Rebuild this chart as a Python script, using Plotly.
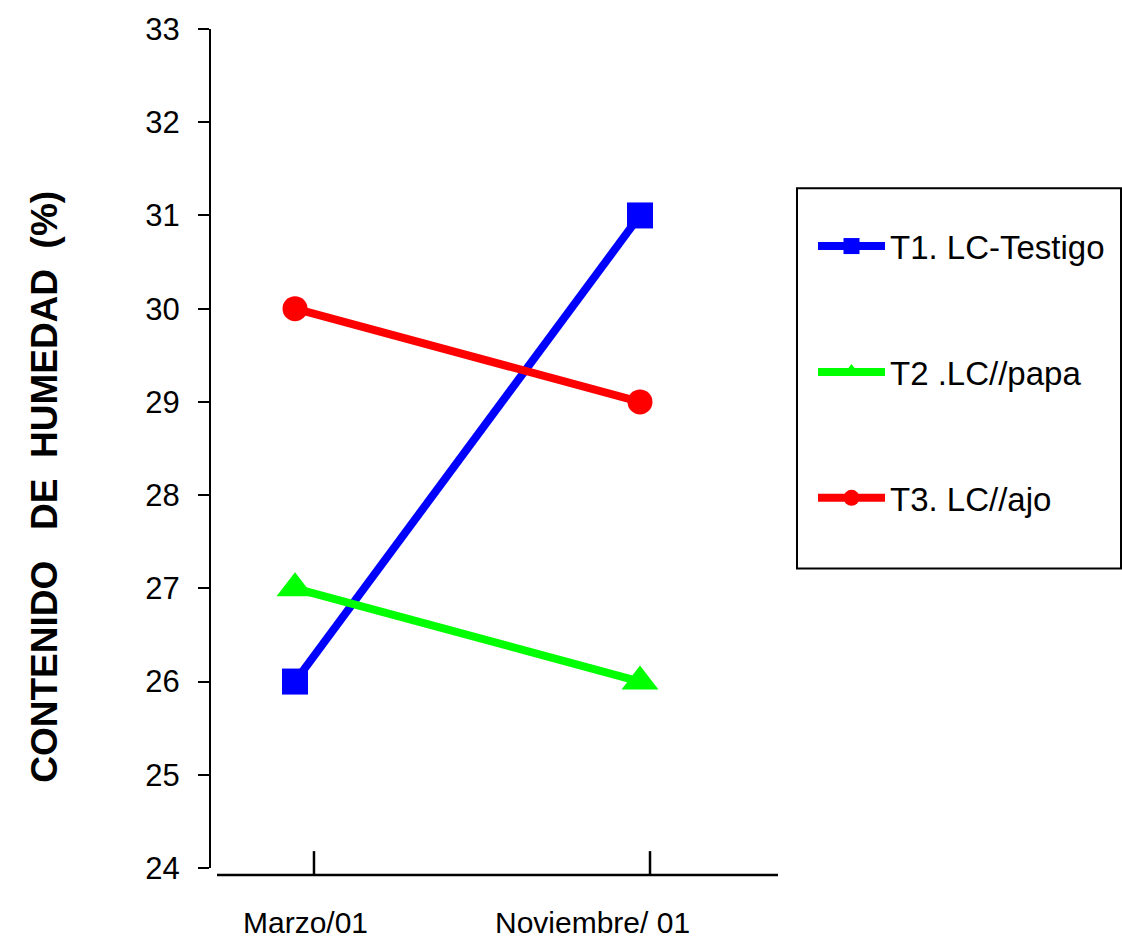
import plotly.graph_objects as go

# ---- data ----
categories = ["Marzo/01", "Noviembre/ 01"]
t1_values = [26, 31]
t2_values = [27, 26]
t3_values = [30, 29]
series_names = ["T1. LC-Testigo", "T2 .LC//papa", "T3. LC//ajo"]
y_ticks = [24, 25, 26, 27, 28, 29, 30, 31, 32, 33]
y_title = "CONTENIDO\u00a0\u00a0\u00a0DE\u00a0\u00a0HUMEDAD\u00a0\u00a0(%)"

FONT = "Liberation Sans, Arial, sans-serif"
x_idx = list(range(len(categories)))

fig = go.Figure()
styles = [
    ("#0000FF", "square", 26),
    ("#00FF00", "triangle-up", 32),
    ("#FF0000", "circle", 25),
]
for name, vals, (col, sym, sz) in zip(series_names, [t1_values, t2_values, t3_values], styles):
    fig.add_trace(go.Scatter(
        x=x_idx, y=vals, name=name, mode="lines+markers",
        line=dict(color=col, width=8),
        marker=dict(color=col, symbol=sym, size=sz, line=dict(width=0)),
        legendgroup=name,
    ))

W, H = 1122, 941
L, R, T, B = 210, 778, 25, 875
plot_w, plot_h = R - L, B - T

x_range = [-0.2464, 1.4]
y_range = [23.925, 33]

def px_to_xpaper(px):
    return (px - L) / plot_w

def px_to_ypaper(py):
    return (B - py) / plot_h

shapes = []
# y axis line (from 24 to 33)
shapes.append(dict(type="line", xref="paper", yref="y", x0=0, x1=0, y0=24, y1=33,
                   line=dict(color="black", width=2)))
# x axis line
shapes.append(dict(type="line", xref="paper", yref="paper",
                   x0=px_to_xpaper(217), x1=1, y0=0, y1=0,
                   line=dict(color="black", width=2.5)))
# x tick marks (inside, upward)
for xt in [0.055, 1.029]:
    shapes.append(dict(type="line", xref="x", yref="paper", x0=xt, x1=xt,
                       y0=0, y1=24 / plot_h, line=dict(color="black", width=2.5)))
# legend box
shapes.append(dict(type="rect", xref="paper", yref="paper",
                   x0=px_to_xpaper(797), x1=px_to_xpaper(1121),
                   y0=px_to_ypaper(567), y1=px_to_ypaper(185),
                   line=dict(color="black", width=2), fillcolor="rgba(0,0,0,0)"))

annotations = []
for cat, xl in zip(categories, [0.029, 0.861]):
    annotations.append(dict(text=cat, x=xl, xref="x", y=px_to_ypaper(923), yref="paper",
                            showarrow=False, xanchor="center", yanchor="middle",
                            font=dict(family=FONT, size=30, color="black")))
annotations.append(dict(text="<b>" + y_title + "</b>", textangle=-90,
                        x=px_to_xpaper(45), xref="paper", y=px_to_ypaper(485), yref="paper",
                        showarrow=False, xanchor="center", yanchor="middle",
                        font=dict(family=FONT, size=37, color="black")))

fig.update_layout(
    width=W, height=H,
    margin=dict(l=L, r=W - R, t=T, b=H - B, pad=0),
    plot_bgcolor="white", paper_bgcolor="white",
    font=dict(family=FONT, size=30, color="black"),
    xaxis=dict(range=x_range, showgrid=False, zeroline=False, showline=False,
               showticklabels=False, ticks=""),
    yaxis=dict(range=y_range, showgrid=False, zeroline=False, showline=False,
               tickmode="array", tickvals=y_ticks, ticks="outside", ticklen=11,
               tickwidth=2, tickcolor="black", ticklabelstandoff=12,
               tickfont=dict(family=FONT, size=31, color="black")),
    legend=dict(x=px_to_xpaper(813), xanchor="left", y=px_to_ypaper(215), yanchor="top",
                xref="paper", yref="paper",
                font=dict(family=FONT, size=33, color="black"),
                traceorder="grouped", tracegroupgap=80, itemwidth=67,
                bgcolor="rgba(0,0,0,0)", borderwidth=0),
    shapes=shapes, annotations=annotations,
    showlegend=True,
)

fig.write_html("out.html")
